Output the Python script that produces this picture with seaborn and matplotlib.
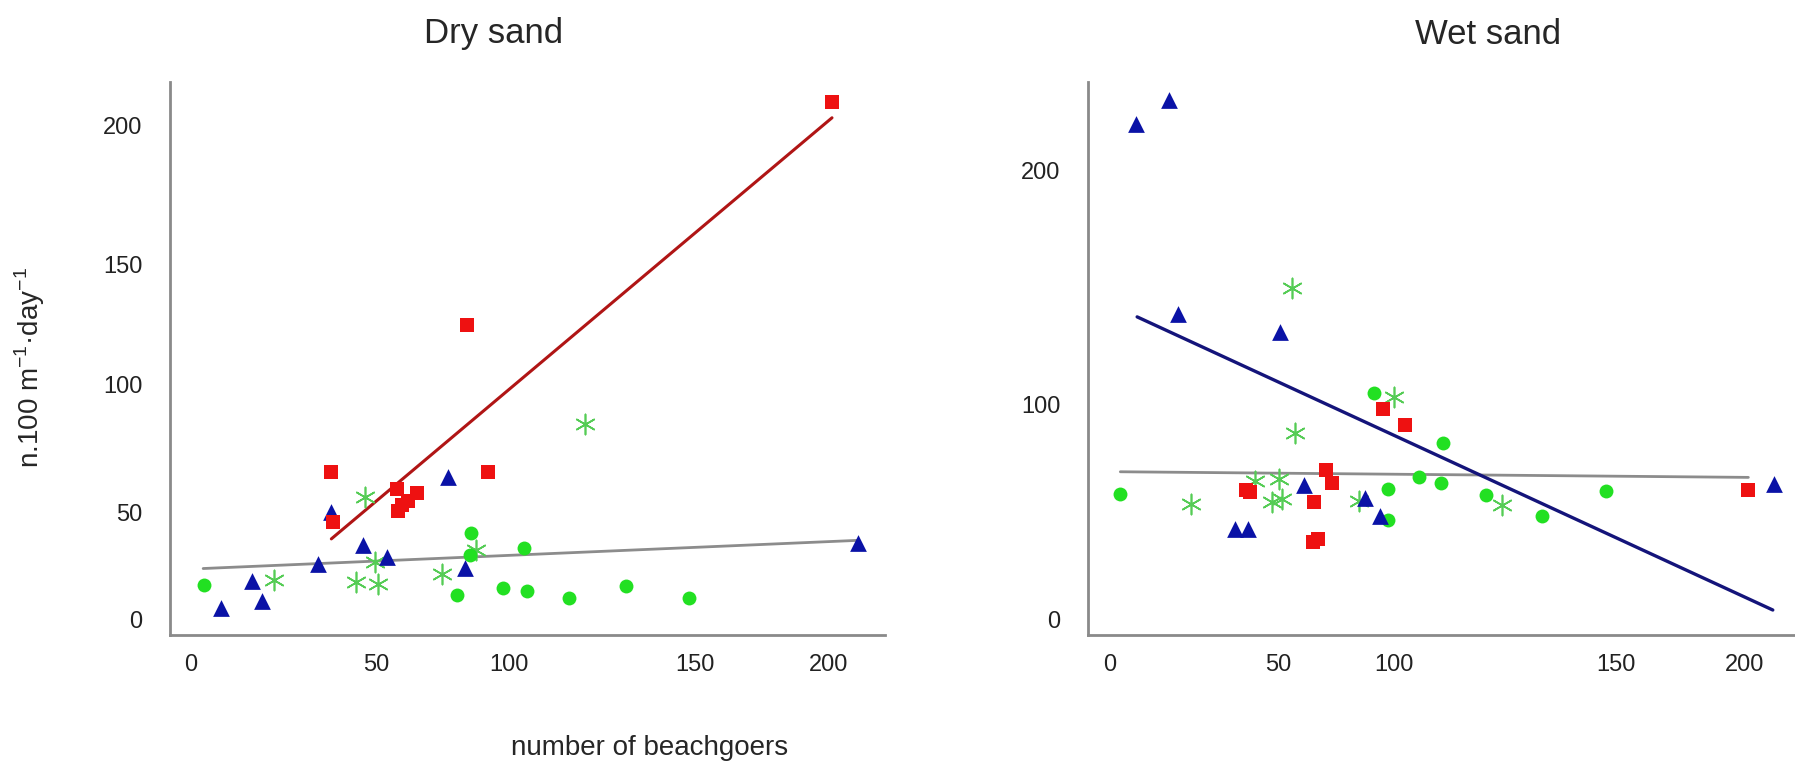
import matplotlib
matplotlib.use("Agg")
import matplotlib.pyplot as plt
import pandas as pd
import seaborn as sns

# ---- Dry sand ----
dry_sq_x = [44.1, 44.8, 64.7, 71.2, 68.3, 65.2, 66.5, 86.6, 93.4, 201.2]
dry_sq_y = [60.0, 39.5, 53.0, 51.5, 48.0, 43.9, 46.5, 119.6, 60.0, 209.6]
dry_tri_x = [9.5, 19.2, 22.5, 40.1, 44.1, 54.0, 61.7, 80.9, 86.1, 209.4]
dry_tri_y = [4.8, 15.7, 7.5, 22.7, 43.7, 30.2, 25.5, 57.7, 21.1, 31.0]
dry_circ_x = [4.2, 83.7, 87.6, 88.0, 97.9, 104.6, 105.7, 118.8, 136.7, 156.4]
dry_circ_y = [14.1, 10.0, 26.4, 35.0, 13.1, 29.1, 11.8, 8.7, 13.8, 8.7]
dry_ast_x = [26.3, 54.8, 51.9, 58.9, 57.9, 78.8, 89.5, 123.9]
dry_ast_y = [16.2, 49.6, 15.3, 14.4, 23.5, 18.5, 28.2, 79.2]
dry_red_fit_x = [44.2, 201.2]
dry_red_fit_y = [32.8, 203.3]
dry_all_fit_x = [4.0, 209.2]
dry_all_fit_y = [20.8, 32.2]

# ---- Wet sand ----
wet_sq_x = [86.0, 93.1, 68.2, 70.0, 43.0, 44.2, 64.2, 64.0, 65.5, 201.2]
wet_sq_y = [93.6, 86.8, 66.8, 61.1, 57.7, 57.0, 52.6, 34.8, 36.0, 58.0]
wet_tri_x = [8.3, 18.5, 21.5, 53.5, 39.5, 43.5, 61.3, 80.5, 85.2, 209.3]
wet_tri_y = [220.5, 231.3, 135.9, 127.9, 40.3, 40.3, 59.9, 54.3, 46.3, 60.4]
wet_circ_x = [3.3, 83.3, 105.1, 97.3, 104.3, 87.5, 118.6, 87.5, 136.2, 156.4]
wet_circ_y = [56.0, 100.9, 78.7, 63.4, 61.1, 58.2, 55.7, 44.6, 46.3, 57.5]
wet_ast_x = [25.6, 57.4, 58.4, 89.6, 45.8, 53.2, 51.1, 54.2, 78.4, 123.5]
wet_ast_y = [51.4, 147.6, 83.0, 99.2, 61.7, 62.5, 52.6, 54.0, 53.1, 50.9]
wet_blue_fit_x = [8.6, 208.9]
wet_blue_fit_y = [134.8, 4.4]
wet_all_fit_x = [3.3, 201.2]
wet_all_fit_y = [65.9, 63.4]

tick_labels = ["0", "50", "100", "150", "200"]

sns.set_theme(style="white")
plt.rcParams['font.family'] = ['Liberation Sans', 'DejaVu Sans']
plt.rcParams['mathtext.fontset'] = 'custom'
plt.rcParams['mathtext.rm'] = 'Liberation Sans'
plt.rcParams['axes.unicode_minus'] = False

RED, BLUE, GREEN, AST = "#ee1111", "#0a12a6", "#22e022", "#55cc55"

fig = plt.figure(figsize=(17.95, 7.69), dpi=100)
ax_dry = fig.add_axes([0.0947, 0.1743, 0.3983, 0.7191])
ax_wet = fig.add_axes([0.6061, 0.1743, 0.3939, 0.7191])


def draw(ax, sq, tri, circ, ast, fits):
    for (fx, fy, c, lw) in fits:
        sns.lineplot(x=fx, y=fy, color=c, linewidth=lw, ax=ax, zorder=1)
    sns.scatterplot(x=ast[0], y=ast[1], marker=(6, 2, 0), s=210, color=AST,
                    edgecolor=AST, linewidth=1.2, ax=ax, zorder=2)
    sns.scatterplot(x=circ[0], y=circ[1], marker="o", s=100, color=GREEN,
                    linewidth=0, ax=ax, zorder=3)
    sns.scatterplot(x=tri[0], y=tri[1], marker="^", s=145, color=BLUE,
                    linewidth=0, ax=ax, zorder=3)
    sns.scatterplot(x=sq[0], y=sq[1], marker="s", s=95, color=RED,
                    linewidth=0, ax=ax, zorder=3)
    sns.despine(ax=ax)
    for sp in ("left", "bottom"):
        ax.spines[sp].set_color("#8a8a8a")
        ax.spines[sp].set_linewidth(2)
    ax.tick_params(length=0, labelsize=17, colors="#222222")
    ax.tick_params(axis="x", pad=14)
    ax.tick_params(axis="y", pad=20)
    ax.set_xlabel("")
    ax.set_ylabel("")


draw(ax_dry, (dry_sq_x, dry_sq_y), (dry_tri_x, dry_tri_y),
     (dry_circ_x, dry_circ_y), (dry_ast_x, dry_ast_y),
     [(dry_all_fit_x, dry_all_fit_y, "#8c8c8c", 2.0),
      (dry_red_fit_x, dry_red_fit_y, "#b01515", 2.2)])
ax_dry.set_xlim(-6.4, 217.8)
ax_dry.set_ylim(-6.1, 217.8)
ax_dry.set_xticks([0, 58.2, 100, 158.2, 200], tick_labels)
ax_dry.set_yticks([0, 43.3, 95.5, 144, 200], tick_labels)

draw(ax_wet, (wet_sq_x, wet_sq_y), (wet_tri_x, wet_tri_y),
     (wet_circ_x, wet_circ_y), (wet_ast_x, wet_ast_y),
     [(wet_all_fit_x, wet_all_fit_y, "#8c8c8c", 2.0),
      (wet_blue_fit_x, wet_blue_fit_y, "#14147a", 2.4)])
ax_wet.set_xlim(-6.9, 215.9)
ax_wet.set_ylim(-6.7, 239.3)
ax_wet.set_xticks([0, 53.2, 89.6, 159.4, 200], tick_labels)
ax_wet.set_yticks([0, 95.8, 200], ["0", "100", "200"])

fig.text(494 / 1795, 1 - 34 / 769, "Dry sand", fontsize=25, ha="center", va="center")
fig.text(1488 / 1795, 1 - 34 / 769, "Wet sand", fontsize=25, ha="center", va="center")
fig.text(30 / 1795, 1 - 368 / 769, "n.100 m$^{\\mathrm{-1}}$·day$^{\\mathrm{-1}}$",
         fontsize=20, rotation=90, ha="center", va="center")
fig.text(650 / 1795, 1 - 748 / 769, "number of beachgoers", fontsize=20,
         ha="center", va="center")

fig.savefig("out.png", dpi=100)
